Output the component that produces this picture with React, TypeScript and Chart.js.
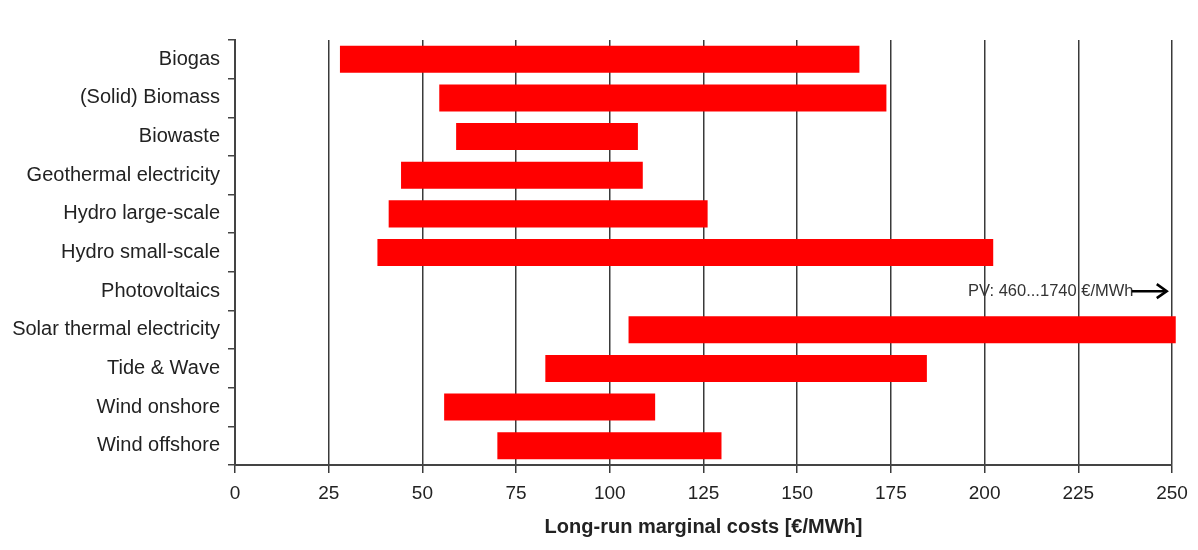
import React, { useEffect, useRef } from "react";
import { Chart, registerables } from "chart.js";

Chart.register(...registerables);

const categories = [
  "Biogas",
  "(Solid) Biomass",
  "Biowaste",
  "Geothermal electricity",
  "Hydro large-scale",
  "Hydro small-scale",
  "Photovoltaics",
  "Solar thermal electricity",
  "Tide & Wave",
  "Wind onshore",
  "Wind offshore",
];

const costMin = [28, 54.5, 59, 44.3, 41, 38, null, 105, 82.8, 55.8, 70];
const costMax = [166.6, 173.8, 107.5, 108.8, 126.1, 202.3, null, 251, 184.6, 112.1, 129.8];

const xTicks = [0, 25, 50, 75, 100, 125, 150, 175, 200, 225, 250];

const pvNote = "PV: 460...1740 €/MWh";
const pvCategory = "Photovoltaics";
const pvTextStart = 195.6;
const pvArrowFrom = 239.3;
const pvArrowTo = 248.6;

const FONT = "Arial, 'Liberation Sans', sans-serif";

export default function App() {
  const ref = useRef<HTMLCanvasElement | null>(null);

  useEffect(() => {
    if (!ref.current) return;

    const pvPlugin = {
      id: "pvNote",
      afterDatasetsDraw(chart: any) {
        const { ctx, scales } = chart;
        const xs = scales.x;
        const ys = scales.y;
        const y = ys.getPixelForValue(categories.indexOf(pvCategory));
        ctx.save();
        ctx.font = `16.5px ${FONT}`;
        ctx.fillStyle = "#333333";
        ctx.textAlign = "left";
        ctx.textBaseline = "middle";
        ctx.fillText(pvNote, xs.getPixelForValue(pvTextStart), y);
        const x1 = xs.getPixelForValue(pvArrowFrom);
        const x2 = xs.getPixelForValue(pvArrowTo);
        ctx.strokeStyle = "#000000";
        ctx.lineWidth = 2.5;
        ctx.beginPath();
        ctx.moveTo(x1, y);
        ctx.lineTo(x2 - 2, y);
        ctx.stroke();
        ctx.beginPath();
        ctx.moveTo(x2 - 10, y - 7);
        ctx.lineTo(x2, y);
        ctx.lineTo(x2 - 10, y + 7);
        ctx.stroke();
        ctx.restore();
      },
    };

    const chart = new Chart(ref.current, {
      type: "bar",
      data: {
        labels: categories,
        datasets: [
          {
            data: categories.map((_, i) =>
              costMin[i] == null ? null : [costMin[i], costMax[i]]
            ) as any,
            backgroundColor: "#ff0000",
            borderWidth: 0,
            barPercentage: 0.7,
            categoryPercentage: 1,
            clip: false as any,
          },
        ],
      },
      options: {
        indexAxis: "y",
        animation: false,
        responsive: false,
        layout: { padding: { top: 40, right: 26, left: 0, bottom: 0 } },
        plugins: {
          legend: { display: false },
          tooltip: { enabled: false },
        },
        scales: {
          x: {
            type: "linear",
            min: 0,
            max: 250,
            afterBuildTicks(scale: any) {
              scale.ticks = xTicks.map((v) => ({ value: v }));
            },
            afterFit(scale: any) {
              scale.height = 85;
            },
            grid: {
              color: "#3a3a3a",
              lineWidth: 1.5,
              tickLength: 8,
            },
            border: { display: true, color: "#444444", width: 2 },
            ticks: {
              color: "#222222",
              font: { family: FONT, size: 19 },
              padding: 9,
              maxRotation: 0,
            },
            title: {
              display: true,
              text: "Long-run marginal costs [€/MWh]",
              color: "#222222",
              font: { family: FONT, size: 20, weight: "bold" },
              padding: { top: 0, bottom: 11 },
            },
          },
          y: {
            type: "category",
            afterFit(scale: any) {
              scale.width = 235;
            },
            grid: {
              display: true,
              drawOnChartArea: false,
              color: "#444444",
              lineWidth: 1.5,
              tickLength: 7,
            },
            border: { display: true, color: "#444444", width: 2 },
            ticks: {
              color: "#222222",
              font: { family: FONT, size: 20 },
              padding: 8,
              autoSkip: false,
            },
          },
        },
      },
      plugins: [pvPlugin],
    });

    return () => chart.destroy();
  }, []);

  return (
    <div style={{ position: "absolute", left: 0, top: 0, width: 1198, height: 550, background: "#ffffff" }}>
      <canvas ref={ref} width={1198} height={550} style={{ display: "block" }} />
    </div>
  );
}
